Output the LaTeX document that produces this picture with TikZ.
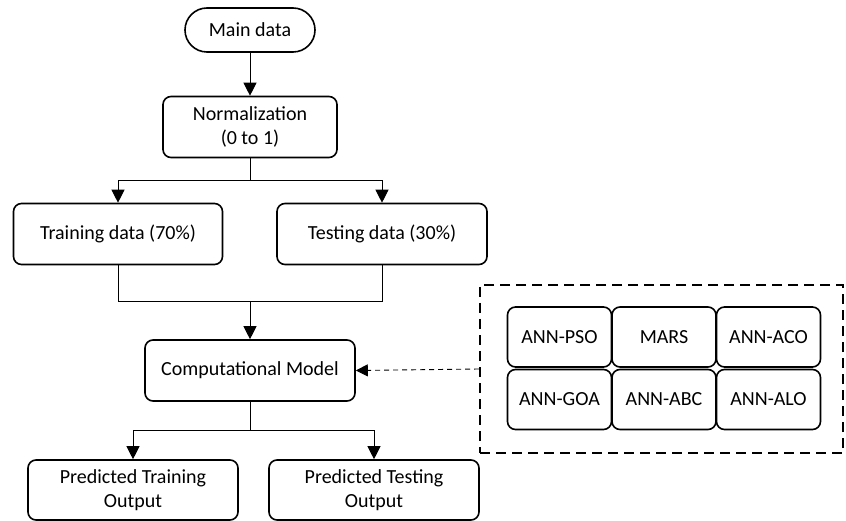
\documentclass[tikz,border=0pt]{standalone}
\usepackage{fontspec}
\setmainfont{Carlito}
\usetikzlibrary{arrows.meta}

\tikzset{
  box/.style={draw, line width=1.6pt, rounded corners=8pt, align=center,
    minimum width=210pt, minimum height=61pt, inner sep=2pt,
    font=\fontsize{20}{24}\selectfont},
  method/.style={box, minimum width=104pt, minimum height=60pt},
  link/.style={line width=1pt},
  arr/.style={link, -{Triangle[length=13pt,width=13pt]}},
  dasharr/.style={line width=0.9pt, dash pattern=on 5pt off 4pt,
    -{Triangle[length=12pt,width=12pt]}}
}

\begin{document}
\begin{tikzpicture}[x=1pt,y=-1pt]
\useasboundingbox (0,0) rectangle (846,521);

% Data preparation
\node[box, rounded corners=22pt, minimum width=130pt, minimum height=44pt] (main) at (250,30) {Main data};
\node[box, minimum width=174pt] (norm) at (250,127) {Normalization\\(0 to 1)};
\node[box, minimum width=209pt] (train) at (118,234) {Training data (70\%)};
\node[box] (test) at (382,234) {Testing data (30\%)};

% Model and outputs
\node[box] (model) at (250,370.5) {Computational Model};
\node[box, minimum height=60pt] (predtrain) at (133,490) {Predicted Training\\Output};
\node[box, minimum height=60pt] (predtest) at (374,490) {Predicted Testing\\Output};

% Candidate methods
\node[draw, line width=1.8pt, dash pattern=on 10pt off 6pt, minimum width=363pt, minimum height=168pt] (methods) at (661.5,369) {};
\node[method] (pso) at (559.5,337) {ANN-PSO};
\node[method] (mars) at (664,337) {MARS};
\node[method] (aco) at (768.5,337) {ANN-ACO};
\node[method] (goa) at (559.5,399.5) {ANN-GOA};
\node[method] (abc) at (664,399.5) {ANN-ABC};
\node[method] (alo) at (768.5,399.5) {ANN-ALO};

% Split and merge points
\coordinate (split) at (250,181);
\coordinate (merge) at (250,302);
\coordinate (out) at (250,430);

\draw[arr] (main) -- (norm);
\draw[link] (norm) -- (split);
\draw[arr] (split) -| (train.north);
\draw[arr] (split) -| (test.north);
\draw[link] (train.south) |- (merge);
\draw[link] (test.south) |- (merge);
\draw[arr] (merge) -- (model.north);
\draw[link] (model.south) -- (out);
\draw[arr] (out) -| (predtrain.north);
\draw[arr] (out) -| (predtest.north);
\draw[dasharr] (methods.west) -- (model.east);

\end{tikzpicture}
\end{document}
